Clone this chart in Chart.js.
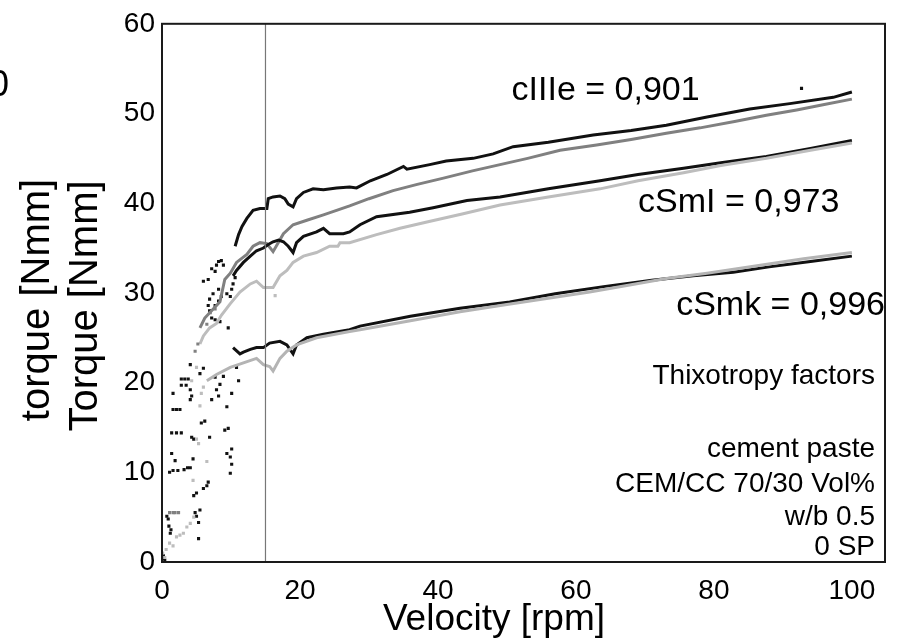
<!DOCTYPE html>
<html>
<head>
<meta charset="utf-8">
<script src="https://cdn.jsdelivr.net/npm/chart.js@4"></script>
<style>
  body { margin: 0; background: #fff; }
</style>
</head>
<body>
<canvas id="torqueChart" width="912" height="639"></canvas>
<script>
// axis ticks
const xTicks = [0, 20, 40, 60, 80, 100];
const yTicks = [0, 10, 20, 30, 40, 50, 60];

// top black (cIIIe)
const s1X = [10.6, 11.1, 11.6, 12.3, 13.2, 14.2, 15.2, 15.4, 16.1, 17.1, 17.8, 18.3, 19.0, 19.5, 20.5, 21.9, 23.4, 25.3, 27.2, 28.2, 30.2, 32.6, 35.0, 35.5, 38.8, 41.2, 45.1, 48, 50.9, 56, 62.5, 68, 73.1, 79, 85.2, 91, 97.3, 100];
const s1Y = [35.2, 36.5, 37.4, 38.3, 39.2, 39.4, 39.4, 40.5, 40.7, 40.8, 40.5, 39.9, 39.6, 40.5, 41.2, 41.6, 41.5, 41.7, 41.8, 41.7, 42.5, 43.2, 44.1, 43.8, 44.3, 44.7, 45.0, 45.5, 46.3, 46.8, 47.6, 48.1, 48.7, 49.6, 50.5, 51.1, 51.8, 52.4];

// dark grey (cIIIe)
const s2X = [5.5, 6.2, 8.4, 9.1, 9.9, 10.8, 12.3, 13.2, 14.2, 15.2, 16.1, 17.6, 19.0, 21.0, 23.4, 25.3, 27.2, 30, 33.5, 37, 40.8, 45, 49.0, 53, 57.7, 63, 68, 73.1, 78, 83, 87.6, 92, 96, 100];
const s2Y = [26.1, 27.2, 29.0, 31.5, 32.2, 33.4, 34.3, 35.2, 35.6, 35.5, 34.6, 36.6, 37.6, 38.1, 38.7, 39.2, 39.7, 40.5, 41.4, 42.1, 42.8, 43.6, 44.3, 45.0, 45.9, 46.5, 47.1, 47.8, 48.4, 49.1, 49.8, 50.4, 51.0, 51.6];

// middle black (cSml)
const s3X = [10.3, 10.8, 11.8, 12.8, 13.7, 14.7, 15.4, 16.1, 16.9, 17.6, 18.3, 19.0, 19.5, 20.5, 22.4, 23.4, 24.3, 26.3, 27.2, 28.7, 31.1, 35.9, 39.3, 44.2, 49, 56, 63.5, 69, 75.6, 81, 87.6, 94, 100];
const s3Y = [31.9, 32.5, 33.4, 34.1, 34.7, 35.0, 35.4, 35.7, 35.9, 35.7, 35.2, 34.5, 35.6, 36.3, 36.8, 37.2, 36.6, 36.6, 36.8, 37.6, 38.5, 39.0, 39.5, 40.3, 40.7, 41.6, 42.5, 43.2, 43.9, 44.5, 45.2, 46.1, 47.0];

// light grey (cSml)
const s4X = [5.5, 6.0, 6.9, 7.9, 8.6, 9.9, 11.3, 12.8, 13.7, 14.7, 16.1, 17.1, 18.1, 19.0, 20.5, 22.4, 24.3, 25.5, 25.8, 27.2, 31.1, 34.5, 38.4, 43.5, 49.0, 56, 63.5, 69, 75.6, 81, 87.6, 94, 100];
const s4Y = [24.3, 25.2, 26.1, 26.6, 27.5, 28.8, 30.1, 31.0, 31.3, 30.6, 30.6, 31.9, 32.5, 33.4, 34.1, 34.5, 35.2, 35.2, 35.6, 35.6, 36.5, 37.2, 37.9, 38.8, 39.8, 40.7, 41.6, 42.5, 43.4, 44.2, 45.0, 45.9, 46.7];

// lower grey (cSmk)
const s5X = [6.5, 7.9, 9.9, 11.8, 13.7, 14.7, 15.6, 16.1, 17.1, 18.1, 19.5, 22.4, 27.2, 28.7, 36, 43.2, 50, 56, 62, 68, 73.1, 79, 86, 93, 100];
const s5Y = [20.2, 20.9, 21.7, 22.2, 22.7, 22.0, 21.8, 21.3, 22.7, 23.5, 24.2, 25.0, 25.7, 25.9, 26.9, 27.9, 28.7, 29.4, 30.1, 30.9, 31.6, 32.2, 33.0, 33.8, 34.5];

// lower black (cSmk)
const s6X = [10.3, 11.3, 11.8, 12.8, 13.7, 14.7, 15.6, 17.1, 18.1, 19.0, 19.5, 21.0, 23.4, 27.2, 28.7, 36.0, 43.2, 50.4, 57, 64, 71, 77, 82.8, 88, 94, 100];
const s6Y = [23.9, 23.2, 23.4, 23.7, 23.9, 23.9, 24.4, 24.6, 24.2, 23.2, 24.2, 25.0, 25.4, 25.9, 26.3, 27.4, 28.3, 29.0, 29.9, 30.7, 31.4, 31.9, 32.3, 32.9, 33.5, 34.1];

// scattered start-up points at low speed
const blackDots = [[0.1,0.4],[0.2,0.7],[0.4,0.2],[0.7,5.1],[0.9,4.8],[1.0,4.0],[1.3,3.6],[1.2,3.2],[1.1,10.0],[1.6,10.2],[2.3,10.2],[3.2,10.3],[3.7,10.5],[4.1,10.5],[1.4,12.1],[1.9,11.3],[1.6,17.0],[2.1,17.0],[2.6,17.0],[1.6,18.8],[1.4,14.4],[2.1,14.4],[2.8,14.4],[2.8,20.4],[3.3,20.4],[3.8,20.4],[2.8,19.7],[3.5,19.7],[4.1,22.0],[4.1,19.2],[4.3,18.5],[4.1,18.1],[4.3,13.9],[4.6,13.7],[4.5,11.5],[4.6,7.4],[5.0,7.7],[4.8,5.5],[5.0,5.1],[5.3,4.4],[5.5,5.8],[5.3,2.6],[5.5,21.0],[6.0,21.6],[5.7,15.5],[6.2,15.7],[6.0,8.2],[6.5,8.5],[6.7,8.9],[6.9,13.9],[7.2,18.1],[7.7,20.6],[7.9,19.2],[8.2,18.5],[8.4,19.8],[8.9,20.7],[9.4,17.3],[9.6,14.9],[9.1,14.7],[9.4,12.1],[9.9,11.7],[10.1,12.6],[10.1,10.9],[9.9,9.9],[9.6,26.1],[10.8,21.7],[11.1,20.2],[10.1,18.8],[6.7,31.5],[7.2,32.7],[7.9,33.1],[8.2,33.5],[8.6,33.6],[8.9,33.1],[7.7,32.4],[8.2,30.4],[7.4,29.9],[6.9,29.3],[6.7,28.6],[6.9,28.0],[7.7,28.6],[8.2,29.1],[8.6,29.6],[7.2,27.2],[7.7,27.0],[8.4,26.8],[9.9,29.6],[10.3,31.0],[10.6,31.7],[10.1,30.4],[9.4,29.9],[6.0,31.3],[92.7,52.8]];
const lightDots = [[0.1,1.0],[0.4,0.5],[0.6,1.4],[1.1,2.1],[1.6,1.8],[2.1,2.8],[2.6,3.0],[3.1,3.2],[3.6,3.9],[4.1,4.3],[4.6,5.0],[4.5,9.1],[5.0,13.7],[5.3,13.2],[5.5,17.4],[5.0,21.7],[4.3,20.2],[5.7,18.8],[6.0,19.5],[6.5,11.2],[16.4,29.7]];
const greyDots = [[1.1,5.5],[1.6,5.5],[1.9,5.5],[2.4,5.5],[4.8,23.5],[5.2,24.3],[6.5,26.5],[7.0,27.8],[7.7,28.2]];

const markerX = 15;

const pts = (xs, ys) => xs.map((x, i) => ({ x: x, y: ys[i] }));
const dots = (arr) => arr.map((p) => ({ x: p[0], y: p[1] }));

const curve = (data, color, width) => ({
  data: data,
  showLine: true,
  borderColor: color,
  borderWidth: width || 3,
  pointRadius: 0,
  tension: 0,
});
const scatter = (data, color) => ({
  data: data,
  showLine: false,
  backgroundColor: color,
  borderWidth: 0,
  pointStyle: "rect",
  pointRadius: 2.2,
});

const FONT = "'Liberation Sans', Arial, sans-serif";

const textPlugin = {
  id: "frameAndText",
  afterDraw(chart) {
    const ctx = chart.ctx;
    const a = chart.chartArea;
    const xs = chart.scales.x;
    const ys = chart.scales.y;
    ctx.save();
    ctx.strokeStyle = "#1a1a1a";
    ctx.lineWidth = 2;
    ctx.strokeRect(a.left, a.top, a.right - a.left, a.bottom - a.top);

    ctx.fillStyle = "#000";
    ctx.textBaseline = "middle";
    ctx.font = "34px " + FONT;
    ctx.textAlign = "center";
    ctx.fillText("cIIIe = 0,901", xs.getPixelForValue(64.3), ys.getPixelForValue(52.6));
    ctx.fillText("cSmI = 0,973", xs.getPixelForValue(83.6), ys.getPixelForValue(40.1));
    ctx.textAlign = "right";
    ctx.fillText("cSmk = 0,996", a.right, ys.getPixelForValue(28.6));

    ctx.font = "28px " + FONT;
    const rx = a.right - 10;
    ctx.fillText("Thixotropy factors", rx, 376);
    ctx.fillText("cement paste", rx, 449);
    ctx.fillText("CEM/CC 70/30 Vol%", rx, 484);
    ctx.fillText("w/b 0.5", rx, 517);
    ctx.fillText("0 SP", rx, 547);

    // axis titles
    ctx.textAlign = "center";
    ctx.font = "37px " + FONT;
    ctx.fillText("Velocity [rpm]", 494, 620);
    ctx.font = "40px " + FONT;
    ctx.save();
    ctx.translate(38, 300);
    ctx.rotate(-Math.PI / 2);
    ctx.fillText("torque [Nmm]", 0, 0);
    ctx.restore();
    ctx.save();
    ctx.translate(86, 306);
    ctx.rotate(-Math.PI / 2);
    ctx.fillText("Torque [Nmm]", 0, 0);
    ctx.restore();
    // cut-off label left over from a neighbouring panel
    ctx.textAlign = "left";
    ctx.font = "36px " + FONT;
    ctx.fillText("0", -11, 86);
    ctx.restore();
  },
};

new Chart(document.getElementById("torqueChart"), {
  type: "scatter",
  data: {
    datasets: [
      curve([{ x: markerX, y: 0 }, { x: markerX, y: 60 }], "#777777", 1.2),
      scatter(dots(lightDots), "#bdbdbd"),
      scatter(dots(greyDots), "#808080"),
      curve(pts(s5X, s5Y), "#b4b4b4"),
      curve(pts(s6X, s6Y), "#111111"),
      curve(pts(s4X, s4Y), "#bdbdbd"),
      curve(pts(s3X, s3Y), "#111111"),
      curve(pts(s2X, s2Y), "#808080"),
      curve(pts(s1X, s1Y), "#111111"),
      scatter(dots(blackDots), "#111111"),
    ],
  },
  options: {
    responsive: false,
    animation: false,
    layout: { padding: { top: 14, right: 27, left: 0, bottom: 0 } },
    plugins: { legend: { display: false }, tooltip: { enabled: false } },
    scales: {
      x: {
        type: "linear",
        min: 0,
        max: 104.8,
        grid: { display: false, drawTicks: false },
        border: { display: false },
        afterBuildTicks: (s) => { s.ticks = xTicks.map((v) => ({ value: v })); },
        afterFit: (s) => { s.height = 77; },
        ticks: { color: "#000", padding: 12, font: { family: FONT, size: 28 }, maxRotation: 0 },
      },
      y: {
        type: "linear",
        min: 0,
        max: 60,
        grid: { display: false, drawTicks: false },
        border: { display: false },
        afterBuildTicks: (s) => { s.ticks = yTicks.map((v) => ({ value: v })); },
        afterFit: (s) => { s.width = 162; },
        ticks: { color: "#000", padding: 7, font: { family: FONT, size: 28 } },
      },
    },
  },
  plugins: [textPlugin],
});
</script>
</body>
</html>
